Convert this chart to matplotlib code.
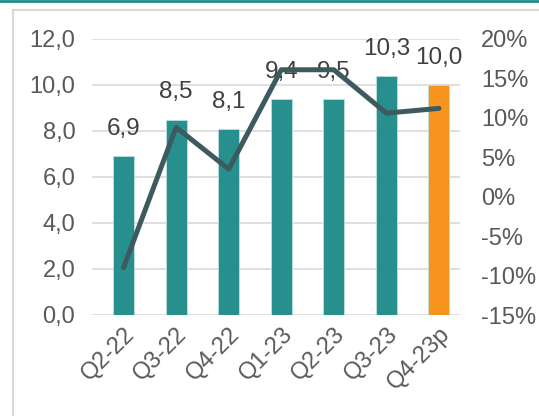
import matplotlib.pyplot as plt
from matplotlib.lines import Line2D
from matplotlib.patches import Rectangle

plt.rcParams['font.family'] = ['Liberation Sans', 'DejaVu Sans']

quarters = ['Q2-22', 'Q3-22', 'Q4-22', 'Q1-23', 'Q2-23', 'Q3-23', 'Q4-23p']
values = [6.9, 8.5, 8.1, 9.4, 9.5, 10.3, 10.0]
bar_heights = [6.9, 8.5, 8.1, 9.4, 9.4, 10.4, 10.0]
growth = [-9.0, 8.8, 3.5, 16.1, 16.1, 10.6, 11.2]
bar_colors = ['#27908f'] * 6 + ['#f7941d']
left_ticks = [0, 2, 4, 6, 8, 10, 12]
right_ticks = [-15, -10, -5, 0, 5, 10, 15, 20]

fig = plt.figure(figsize=(5.39, 4.16), dpi=100)
ax = fig.add_axes([92 / 539, 1 - 315 / 416, 368 / 539, 276 / 416])

x = range(len(quarters))
ax.bar(x, bar_heights, width=0.4, color=bar_colors, edgecolor='#bfe0df', linewidth=0.6, zorder=2)
ax.set_ylim(0, 12)
ax.set_xlim(-0.6, 6.4)
ax.set_yticks(left_ticks)
ax.set_yticklabels(['{:.1f}'.format(t).replace('.', ',') for t in left_ticks])
ax.yaxis.grid(True, color='#d9d9d9', linewidth=1.2, zorder=0)
ax.set_axisbelow(True)
for s in ax.spines.values():
    s.set_visible(False)
ax.tick_params(axis='y', length=0, labelsize=17, colors='#595959', pad=12)
ax.tick_params(axis='x', length=0, labelsize=17, colors='#595959', pad=6)
ax.set_xticks(list(x))
ax.set_xticklabels(quarters, rotation=45, ha='right', rotation_mode='anchor')

for i, v in enumerate(values):
    ax.text(i, bar_heights[i] + 0.7, '{:.1f}'.format(v).replace('.', ','),
            ha='center', va='bottom', fontsize=17.5, color='#404040', zorder=5)

ax2 = ax.twinx()
ax2.plot(list(x), growth, color='#3d5a5e', linewidth=3.6, solid_capstyle='round', zorder=4)
ax2.set_ylim(-15, 20)
ax2.set_yticks(right_ticks)
ax2.set_yticklabels(['{}%'.format(t) for t in right_ticks])
for s in ax2.spines.values():
    s.set_visible(False)
ax2.tick_params(axis='y', length=0, labelsize=17, colors='#595959', pad=15)

# frame around the chart
fig.add_artist(Rectangle((13 / 539, -0.01), 1.0, 1 - 10 / 416 + 0.01, transform=fig.transFigure,
                         fill=False, edgecolor='#d9d9d9', linewidth=1.5))
fig.add_artist(Line2D([0, 1], [1 - 1 / 416, 1 - 1 / 416], transform=fig.transFigure,
                      color='#1e8c8c', linewidth=2))

fig.savefig('out.png', dpi=100)
